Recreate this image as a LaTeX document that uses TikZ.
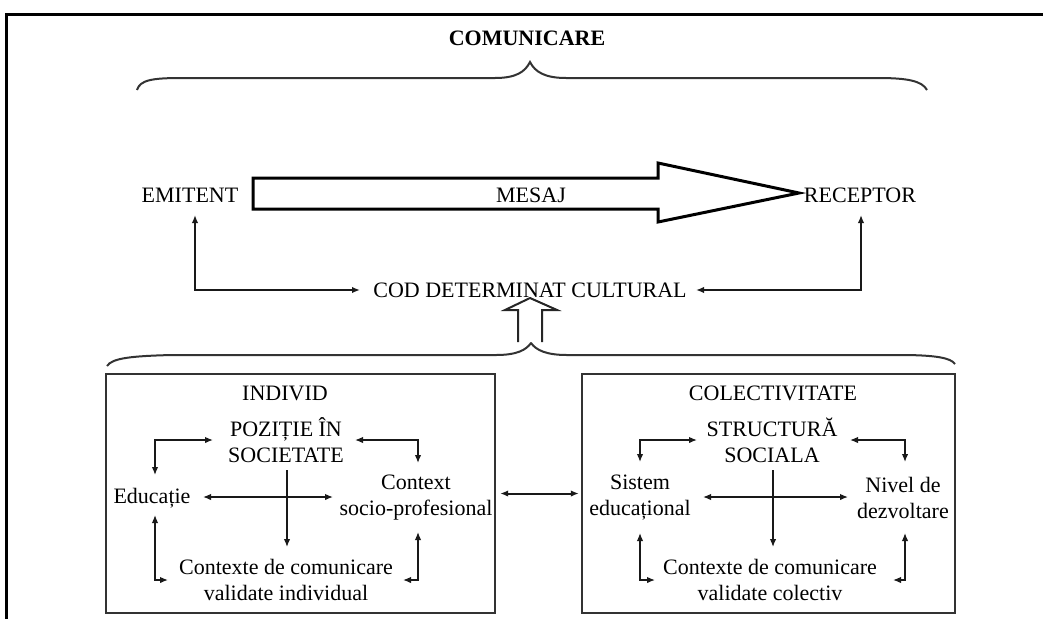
\documentclass[tikz,border=0pt]{standalone}
\usepackage{fontspec}
\setmainfont{Liberation Serif}
\usetikzlibrary{arrows.meta,calc}
\begin{document}
\begin{tikzpicture}[x=1pt,y=-1pt,
  txt/.style={font=\fontsize{22}{26}\selectfont, inner sep=0pt, align=center, text=black},
  ttl/.style={txt, font=\fontsize{22}{26}\selectfont\bfseries},
  dbl/.style={{Latex[length=8pt,width=6.5pt]}-{Latex[length=8pt,width=6.5pt]}, line width=1.4pt, draw=black!90},
  one/.style={-{Latex[length=8pt,width=6.5pt]}, line width=1.4pt, draw=black!90},
  bigdbl/.style={dbl, line width=2pt},
  brace/.style={line width=2pt, draw=black!80},
  panel/.style={draw=black!80, line width=2.4pt, inner sep=0pt},
  frame/.style={line width=3pt, draw=black}]
\useasboundingbox (0,0) rectangle (1043,619);

% page frame
\draw[frame] (1043,14) -- (6,14) -- (6,619);

% title and upper brace
\node[ttl] (com) at (527,38) {COMUNICARE};
\draw[brace] (137,90) .. controls (140,80) and (152,78) .. (182,78) -- (495,78)
  .. controls (516,78) and (525,72) .. (530,62)
  .. controls (535,72) and (545,78) .. (566,78) -- (878,78)
  .. controls (908,78) and (922,81) .. (927,90);

% sender, message, receiver
\node[txt] (emit) at (190,195) {EMITENT};
\node[txt] (rec) at (860,195) {RECEPTOR};
\draw[line width=3pt, draw=black, fill=white]
  (253,178) -- (658,178) -- (658,163) -- (799,193) -- (658,222) -- (658,209) -- (253,209) -- cycle;
\node[txt] (mesaj) at (531,195) {MESAJ};

% cultural code
\node[txt] (cod) at (530,290) {COD DETERMINAT CULTURAL};
\draw[bigdbl] ($(emit)+(5,20)$) |- ($(cod)+(-170,0)$);
\draw[bigdbl] ($(rec)+(1,20)$) |- ($(cod)+(166,0)$);

% lower brace and hollow arrow
\draw[brace] (107,366) .. controls (112,358) and (132,356) .. (172,355) -- (496,355)
  .. controls (517,355) and (526,350) .. (531,343)
  .. controls (536,350) and (546,355) .. (567,355) -- (900,355)
  .. controls (936,355) and (951,358) .. (955,364);
\coordinate (btip) at (531,343);
\draw[line width=2pt, draw=black!85, fill=white]
  ($(btip)+(-13,-1)$) -- ($(btip)+(-13,-33)$) -- ($(btip)+(-26,-33)$) -- ($(btip)+(-1,-45)$)
  -- ($(btip)+(26,-33)$) -- ($(btip)+(11,-33)$) -- ($(btip)+(11,-1)$);

% panels
\node[panel, minimum width=389pt, minimum height=239pt] (boxL) at (300.5,493.5) {};
\node[panel, minimum width=373pt, minimum height=239pt] (boxR) at (768.5,493.5) {};
\draw[bigdbl, shorten <=4pt, shorten >=2pt] (boxL.east) -- (boxR.west);

% individual panel
\node[txt] (indiv) at (285,393) {INDIVID};
\node[txt] (poz) at (286,440) {POZIȚIE ÎN\\SOCIETATE};
\node[txt] (edu) at (152,498) {Educație};
\node[txt] (ctx) at (416,498) {Context\\socio-profesional};
\node[txt] (ctxc) at (286,580) {Contexte de comunicare\\validate individual};
\draw[dbl] ($(edu)+(3,-23)$) |- ($(poz)+(-73,0)$);
\draw[dbl] ($(poz)+(69,0)$) -| ($(ctx)+(2,-35)$);
\draw[dbl] ($(edu)+(51,-1)$) -- ($(ctx)+(-83,-1)$);
\draw[one] ($(poz)+(1,30)$) -- ($(ctxc)+(1,-33)$);
\draw[dbl] ($(edu)+(3,17)$) |- ($(ctxc)+(-118,0)$);
\draw[dbl] ($(ctx)+(2,34)$) |- ($(ctxc)+(117,0)$);

% collective panel
\node[txt] (colect) at (773,393) {COLECTIVITATE};
\node[txt] (struct) at (772,440) {STRUCTURĂ\\SOCIALA};
\node[txt] (sist) at (640,498) {Sistem\\educațional};
\node[txt] (nivel) at (903,498) {Nivel de\\dezvoltare};
\node[txt] (ctxr) at (770,580) {Contexte de comunicare\\validate colectiv};
\draw[dbl] ($(sist)+(0,-36)$) |- ($(struct)+(-75,0)$);
\draw[dbl] ($(struct)+(78,0)$) -| ($(nivel)+(2,-36)$);
\draw[dbl] ($(sist)+(63,-1)$) -- ($(nivel)+(-55,-1)$);
\draw[one] ($(struct)+(1,30)$) -- ($(ctxr)+(3,-33)$);
\draw[dbl] ($(sist)+(0,35)$) |- ($(ctxr)+(-115,0)$);
\draw[dbl] ($(nivel)+(2,35)$) |- ($(ctxr)+(123,0)$);
\end{tikzpicture}
\end{document}
